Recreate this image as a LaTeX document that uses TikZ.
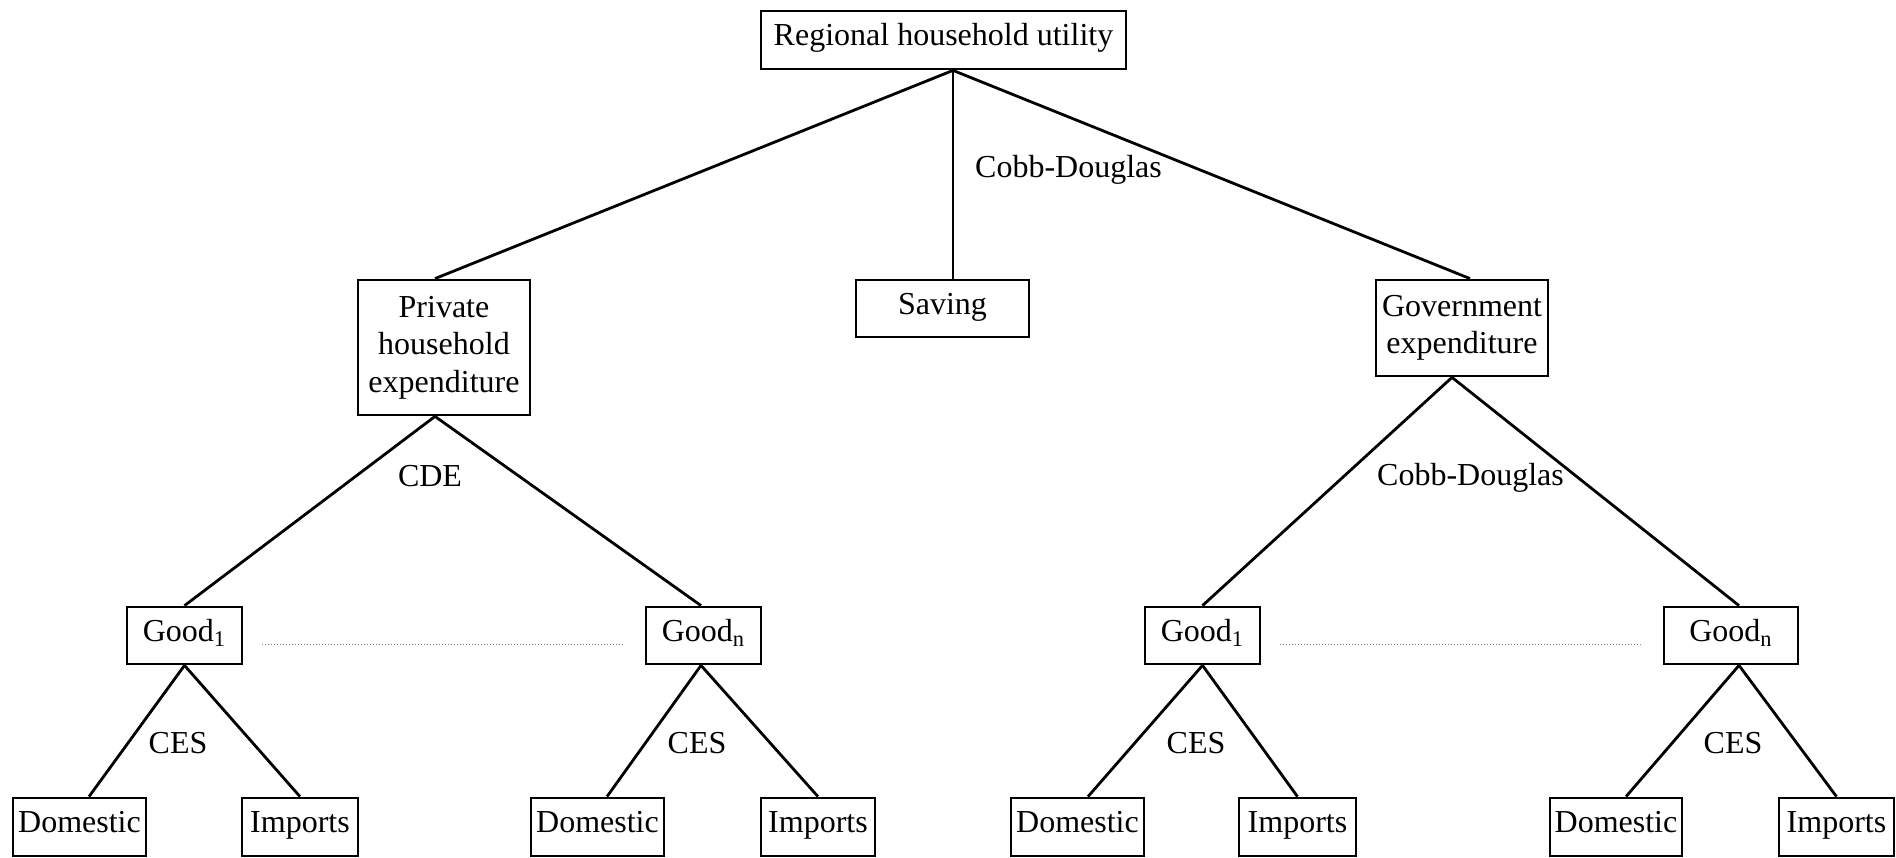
\documentclass[tikz,border=0pt]{standalone}
\usepackage{fontspec}
\setmainfont{Liberation Serif}
\begin{document}
\begin{tikzpicture}[x=0.5pt,y=-0.5pt,
  txt/.style={font=\fontsize{16}{18.75}\selectfont},
  box/.style={txt,draw,line width=1.4pt,inner sep=0pt,align=center},
  one/.style={text height=10pt,text depth=4.5pt},
  lbl/.style={txt,anchor=base,inner sep=0pt},
  link/.style={line width=1.4pt},
  dotline/.style={line width=0.5pt,densely dotted,gray}]
\useasboundingbox (0,0) rectangle (1896,857);
% top level
\node[box,one,minimum width=182.5pt,minimum height=29pt] (top) at (943.5,40) {Regional household utility};
\node[box,minimum width=86pt,minimum height=67.5pt] (priv) at (444,347.5) {Private\\household\\expenditure};
\node[box,one,minimum width=86.5pt,minimum height=28.5pt] (saving) at (942.5,308.5) {Saving};
\node[box,minimum width=86pt,minimum height=48pt] (gov) at (1462,328) {Government\\expenditure};
% goods
\node[box,one,minimum width=57.5pt,minimum height=28.5pt] (g1L) at (184.5,635.5) {Good\textsubscript{1}};
\node[box,one,minimum width=57.5pt,minimum height=28.5pt] (gnL) at (703.5,635.5) {Good\textsubscript{n}};
\node[box,one,minimum width=57.5pt,minimum height=28.5pt] (g1R) at (1202.5,635.5) {Good\textsubscript{1}};
\node[box,one,minimum width=67pt,minimum height=28.5pt] (gnR) at (1731,635.5) {Good\textsubscript{n}};
% bottom
\node[box,one,minimum width=66.5pt,minimum height=29pt] (d1) at (79.5,827) {Domestic};
\node[box,one,minimum width=58pt,minimum height=29pt] (i1) at (300,827) {Imports};
\node[box,one,minimum width=66.5pt,minimum height=29pt] (d2) at (597.5,827) {Domestic};
\node[box,one,minimum width=57pt,minimum height=29pt] (i2) at (818,827) {Imports};
\node[box,one,minimum width=66.5pt,minimum height=29pt] (d3) at (1077.5,827) {Domestic};
\node[box,one,minimum width=58.5pt,minimum height=29pt] (i3) at (1297.5,827) {Imports};
\node[box,one,minimum width=66pt,minimum height=29pt] (d4) at (1616,827) {Domestic};
\node[box,one,minimum width=57.5pt,minimum height=29pt] (i4) at (1836.5,827) {Imports};
% labels
\node[lbl] (cd1) at (1068.5,177) {Cobb-Douglas};
\node[lbl] (cde) at (430,486) {CDE};
\node[lbl] (cd2) at (1470.5,485) {Cobb-Douglas};
\node[lbl] (ces1) at (178,753) {CES};
\node[lbl] (ces2) at (697,753) {CES};
\node[lbl] (ces3) at (1196,753) {CES};
\node[lbl] (ces4) at (1733,753) {CES};
% connectors
\draw[link] ([xshift=4.75pt]top.south) -- ([xshift=-4.5pt]priv.north);
\draw[link] ([xshift=4.75pt]top.south) -- ([xshift=5.25pt]saving.north);
\draw[link] ([xshift=4.75pt]top.south) -- ([xshift=4pt]gov.north);
\draw[link] ([xshift=-4.5pt]priv.south) -- (g1L.north);
\draw[link] ([xshift=-4.5pt]priv.south) -- ([xshift=-1.25pt]gnL.north);
\draw[link] ([xshift=-5pt]gov.south) -- (g1R.north);
\draw[link] ([xshift=-5pt]gov.south) -- ([xshift=4pt]gnR.north);
\draw[link] (g1L.south) -- ([xshift=4.75pt]d1.north);
\draw[link] (g1L.south) -- (i1.north);
\draw[link] ([xshift=-1.25pt]gnL.south) -- ([xshift=4.75pt]d2.north);
\draw[link] ([xshift=-1.25pt]gnL.south) -- (i2.north);
\draw[link] (g1R.south) -- ([xshift=5.25pt]d3.north);
\draw[link] (g1R.south) -- (i3.north);
\draw[link] ([xshift=4pt]gnR.south) -- ([xshift=5pt]d4.north);
\draw[link] ([xshift=4pt]gnR.south) -- (i4.north);
% dotted
\draw[dotline] ([xshift=9.5pt,yshift=-4.5pt]g1L.east) -- ([xshift=-10.5pt,yshift=-4.5pt]gnL.west);
\draw[dotline] ([xshift=9.5pt,yshift=-4.5pt]g1R.east) -- ([xshift=-10.5pt,yshift=-4.5pt]gnR.west);
\end{tikzpicture}
\end{document}
